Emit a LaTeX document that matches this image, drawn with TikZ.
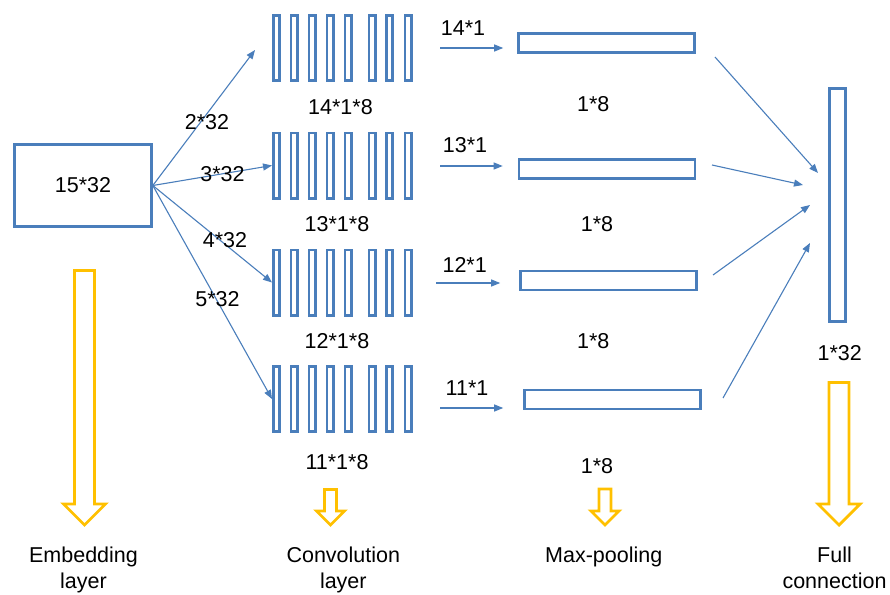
\documentclass[tikz,border=0pt]{standalone}
\usepackage{fontspec}
\setmainfont{Liberation Sans}
\usetikzlibrary{arrows.meta}

\definecolor{boxblue}{HTML}{4A7EBB}
\definecolor{layeryellow}{HTML}{FFC000}

\tikzset{
	box/.style = {draw = boxblue, line width = 2.6pt, inner sep = 0pt},
	conn/.style = {draw = boxblue, line width = 1.1pt, ->, > = {Triangle[length = 9pt, width = 7pt]}},
}

% hollow arrow pointing down: x, top, start of head, half shaft, half head
\newcommand{\layerarrow}[5]{%
	\draw [layeryellow, line width = 2.8pt]
		( #1 - #4, #2 ) -- ( #1 + #4, #2 ) -- ( #1 + #4, #3 ) -- ( #1 + #5, #3 )
		-- ( #1, #3 + #5 ) -- ( #1 - #5, #3 ) -- ( #1 - #4, #3 ) -- cycle;
}

\begin{document}
\begin{tikzpicture}[x = 1pt, y = -1pt, font = \fontsize{21.5}{25.5}\selectfont]
	\useasboundingbox ( 0, 0 ) rectangle ( 890, 594 );

	\node [box, minimum width = 137pt, minimum height = 82pt] (emb) at ( 83, 185.5 ) {15*32};

	% eight filters per row
	\foreach \row/\y in {1/48, 2/165.5, 3/282.5, 4/399} {
		\foreach \x in {276.5, 294, 312, 330, 348, 372, 389.5, 408}
			\draw [box] ( \x - 3.2, \y - 32.7 ) rectangle ( \x + 3.2, \y + 32.7 );
		\coordinate (conv\row) at ( 272, \y );
	}

	\node [box, minimum width = 176pt, minimum height = 19pt] (pool1) at ( 606.5, 43 ) {};
	\node [box, minimum width = 176pt, minimum height = 19pt] (pool2) at ( 607, 169 ) {};
	\node [box, minimum width = 176pt, minimum height = 19pt] (pool3) at ( 608.5, 280.5 ) {};
	\node [box, minimum width = 176pt, minimum height = 19pt] (pool4) at ( 612.5, 399.5 ) {};

	\node [box, minimum width = 16pt, minimum height = 233pt] (fc) at ( 837.5, 205 ) {};

	\coordinate (in1) at ( 255, 50 );
	\draw [conn] (emb.east) -- (in1);
	\draw [conn] (emb.east) -- (conv2);
	\draw [conn] (emb.east) -- (conv3);
	\draw [conn] (emb.east) -- (conv4);
	\node (k2) at ( 207, 122 ) {2*32};
	\node (k3) at ( 222.5, 174.5 ) {3*32};
	\node (k4) at ( 225, 240 ) {4*32};
	\node (k5) at ( 217.5, 299.5 ) {5*32};

	\node (map1) at ( 340.5, 106.7 ) {14*1*8};
	\node (map2) at ( 337, 224 ) {13*1*8};
	\node (map3) at ( 337, 341 ) {12*1*8};
	\node (map4) at ( 337, 462 ) {11*1*8};

	% conv maps into pooling
	\coordinate (s1) at ( 440, 48 );
	\coordinate (s2) at ( 440, 166 );
	\coordinate (s3) at ( 436, 283 );
	\coordinate (s4) at ( 440, 408 );
	\foreach \row/\gap in {1/14, 2/15, 3/19, 4/20}
		\draw [conn, shorten > = \gap pt] (s\row) -- (s\row -| pool\row.west);
	\node (win1) at ( 463, 28 ) {14*1};
	\node (win2) at ( 465, 144.7 ) {13*1};
	\node (win3) at ( 464.7, 264.7 ) {12*1};
	\node (win4) at ( 467, 388 ) {11*1};

	\node (out1) at ( 593.3, 104 ) {1*8};
	\node (out2) at ( 597, 223.8 ) {1*8};
	\node (out3) at ( 593.3, 341.3 ) {1*8};
	\node (out4) at ( 597, 466 ) {1*8};

	% pooling into the full connection
	\coordinate (p1) at ( 715, 57 );
	\coordinate (p2) at ( 712, 165 );
	\coordinate (p3) at ( 713, 275 );
	\coordinate (p4) at ( 723, 398 );
	\coordinate (f1) at ( 818, 173 );
	\coordinate (f2) at ( 803, 185 );
	\coordinate (f3) at ( 810, 205 );
	\coordinate (f4) at ( 810, 243 );
	\foreach \row in {1, 2, 3, 4}
		\draw [conn] (p\row) -- (f\row);
	\node (fcsize) at ( 839.7, 353 ) {1*32};

	\layerarrow{84.5}{270.5}{504}{10}{21}
	\layerarrow{330.5}{489.5}{511}{6}{14}
	\layerarrow{605}{489}{511}{6}{14}
	\layerarrow{839}{382.5}{504}{10}{21}

	\node [anchor = north, align = center, inner sep = 0pt] (embname) at ( 83.5, 547 ) {Embedding\\layer};
	\node [anchor = north, align = center, inner sep = 0pt] (convname) at ( 343.3, 547 ) {Convolution\\layer};
	\node [anchor = north, align = center, inner sep = 0pt] (poolname) at ( 603.7, 547 ) {Max-pooling};
	\node [anchor = north, align = center, inner sep = 0pt] (fcname) at ( 834.5, 547 ) {Full\\connection};
\end{tikzpicture}
\end{document}
